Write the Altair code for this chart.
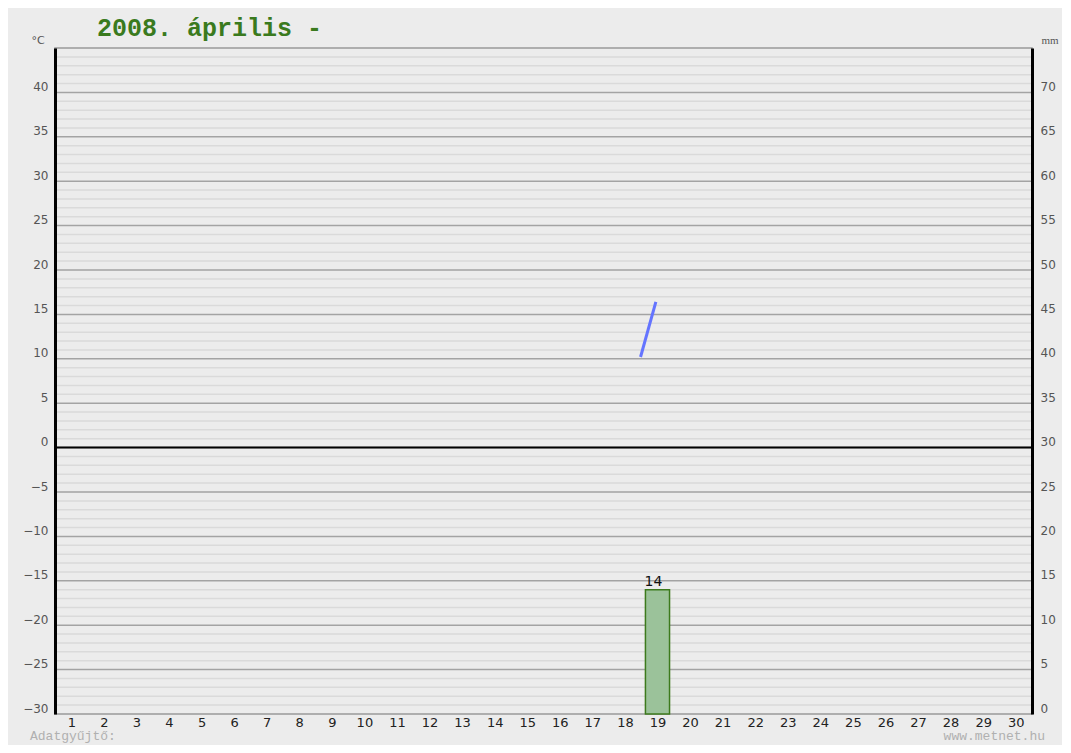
import altair as alt
import pandas as pd

# ---- data ----
days = list(range(1, 31))
rain_days = [19]
rain_mm = [14]
temp_days = [18.48, 18.95]
temp_vals = [10.2, 16.4]
left_ticks = list(range(-30, 45, 5))
right_ticks = list(range(0, 75, 5))
major_levels = list(range(-25, 45, 5))
minor_levels = [t for t in range(-29, 45) if t % 5 != 0]
zero_level = [0]

title_text = "2008. április -"
unit_left = "°C"
unit_right = "mm"
footer_left = "Adatgyűjtő:"
footer_right = "www.metnet.hu"

BG = "#ececec"
W, H = 977, 666

x_scale = alt.Scale(domain=[0.5, 30.5], nice=False, zero=False)
x_axis = alt.Axis(values=days, title=None, grid=False, ticks=False, domain=False,
                  labelFont="DejaVu Sans", labelFontSize=13, labelColor="#222222",
                  labelPadding=2, labelFlush=False)
t_scale = alt.Scale(domain=[-30, 45], nice=False, zero=False)
t_axis = alt.Axis(values=left_ticks, orient="left", title=None, grid=False, ticks=False,
                  domainColor="#000000", domainWidth=3, zindex=2,
                  labelFont="DejaVu Sans", labelFontSize=12, labelColor="#555555",
                  labelPadding=7, labelOffset=-6)
mm_scale = alt.Scale(domain=[0, 75], nice=False, zero=False)
mm_axis = alt.Axis(values=right_ticks, orient="right", title=None, grid=False, ticks=False,
                   domainColor="#000000", domainWidth=3, zindex=2,
                   labelFont="DejaVu Sans", labelFontSize=12, labelColor="#555555",
                   labelPadding=8, labelOffset=-6)

minor_df = pd.DataFrame({"t": minor_levels})
major_df = pd.DataFrame({"t": major_levels})
zero_df = pd.DataFrame({"t": zero_level})
rain_df = pd.DataFrame({"d": rain_days, "mm": rain_mm})
temp_df = pd.DataFrame({"d": temp_days, "t": temp_vals})

yT = alt.Y("t:Q", scale=t_scale, axis=t_axis)

minor = alt.Chart(minor_df).mark_rule(color="#dadada", strokeWidth=1.5).encode(y=yT)
major = alt.Chart(major_df).mark_rule(color="#a3a3a3", strokeWidth=1.5).encode(y=yT)
zero = alt.Chart(zero_df).mark_rule(color="#000000", strokeWidth=2).encode(y=yT)
line = alt.Chart(temp_df).mark_line(color="#6474ff", strokeWidth=3).encode(
    x=alt.X("d:Q", scale=x_scale, axis=x_axis), y=yT)

temp_layer = alt.layer(minor, major, zero, line)

bars = alt.Chart(rain_df).transform_calculate(
    x0="datum.d - 0.37", x1="datum.d + 0.37"
).mark_rect(fill="#9bc29a", stroke="#3c7a1c", strokeWidth=1.5).encode(
    x=alt.X("x0:Q", scale=x_scale, axis=x_axis),
    x2="x1:Q",
    y=alt.Y("mm:Q", scale=mm_scale, axis=mm_axis),
    y2=alt.datum(0),
)
bar_text = alt.Chart(rain_df).mark_text(
    font="DejaVu Sans", fontSize=14, color="#111111", baseline="bottom", dy=-1, dx=-4
).encode(
    x=alt.X("d:Q", scale=x_scale, axis=x_axis),
    y=alt.Y("mm:Q", scale=mm_scale, axis=mm_axis),
    text="mm:Q",
)
mm_layer = alt.layer(bars, bar_text)

one = alt.Data(values=[{}])
deco = alt.layer(
    alt.Chart(one).mark_text(text=title_text, font="Liberation Mono", fontWeight="bold",
                             fontSize=25, color="#3a7a1e", align="left",
                             baseline="alphabetic").encode(x=alt.value(42), y=alt.value(-12)),
    alt.Chart(one).mark_text(text=unit_left, font="DejaVu Sans", fontSize=11,
                             color="#555555", align="center",
                             baseline="alphabetic").encode(x=alt.value(-17), y=alt.value(-4)),
    alt.Chart(one).mark_text(text=unit_right, font="Liberation Serif", fontSize=11,
                             color="#555555", align="center",
                             baseline="alphabetic").encode(x=alt.value(995), y=alt.value(-4)),
    alt.Chart(one).mark_text(text=footer_left, font="Liberation Mono", fontSize=13,
                             color="#b0b0b0", align="left",
                             baseline="alphabetic").encode(x=alt.value(-25), y=alt.value(692)),
    alt.Chart(one).mark_text(text=footer_right, font="Liberation Mono", fontSize=13,
                             color="#b0b0b0", align="right",
                             baseline="alphabetic").encode(x=alt.value(990), y=alt.value(692)),
)

chart = alt.layer(temp_layer, mm_layer, deco).resolve_scale(
    y="independent"
).properties(
    width=W, height=H,
    padding={"left": 47, "top": 40, "right": 30, "bottom": 31},
    autosize=alt.AutoSizeParams(type="none"),
    background=BG,
).configure_view(stroke="#999999", strokeWidth=1.5)

chart.save("out.html", embed_options={"renderer": "svg", "actions": False})
